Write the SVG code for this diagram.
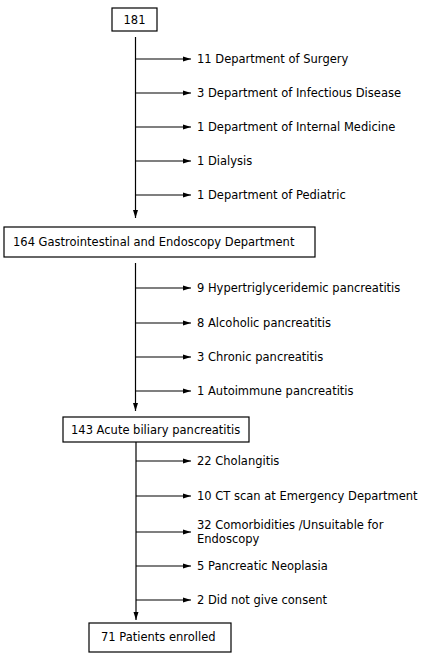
<svg xmlns="http://www.w3.org/2000/svg" width="427" height="659" viewBox="0 0 427 659">
<style>
text{font-family:"DejaVu Sans",Verdana,sans-serif;font-size:11.5px;fill:#000}
.box{fill:#fff;stroke:#000;stroke-width:1.2}
.ln{stroke:#000;stroke-width:1.2;fill:none}
</style>
<defs>
<marker id="ah" viewBox="0 0 8 6" refX="8" refY="3" markerWidth="8" markerHeight="6" markerUnits="userSpaceOnUse" orient="auto">
<path d="M0,0.5 L8,3 L0,5.5 Z" fill="#000"/>
</marker>
</defs>
<rect width="427" height="659" fill="#fff"/>
<g id="connectors">
<line class="ln" x1="135.5" y1="37" x2="135.5" y2="218" marker-end="url(#ah)"/>
<line class="ln" x1="135.5" y1="59" x2="191" y2="59" marker-end="url(#ah)"/>
<line class="ln" x1="135.5" y1="93" x2="191" y2="93" marker-end="url(#ah)"/>
<line class="ln" x1="135.5" y1="127" x2="191" y2="127" marker-end="url(#ah)"/>
<line class="ln" x1="135.5" y1="161" x2="191" y2="161" marker-end="url(#ah)"/>
<line class="ln" x1="135.5" y1="195" x2="191" y2="195" marker-end="url(#ah)"/>
<line class="ln" x1="135.5" y1="263" x2="135.5" y2="411" marker-end="url(#ah)"/>
<line class="ln" x1="135.5" y1="288" x2="191" y2="288" marker-end="url(#ah)"/>
<line class="ln" x1="135.5" y1="323" x2="191" y2="323" marker-end="url(#ah)"/>
<line class="ln" x1="135.5" y1="357" x2="191" y2="357" marker-end="url(#ah)"/>
<line class="ln" x1="135.5" y1="391" x2="191" y2="391" marker-end="url(#ah)"/>
<line class="ln" x1="136" y1="442" x2="136" y2="620" marker-end="url(#ah)"/>
<line class="ln" x1="136" y1="461" x2="191" y2="461" marker-end="url(#ah)"/>
<line class="ln" x1="136" y1="496" x2="191" y2="496" marker-end="url(#ah)"/>
<line class="ln" x1="136" y1="532" x2="191" y2="532" marker-end="url(#ah)"/>
<line class="ln" x1="136" y1="566" x2="191" y2="566" marker-end="url(#ah)"/>
<line class="ln" x1="136" y1="600" x2="191" y2="600" marker-end="url(#ah)"/>
</g>
<g id="n181"><rect class="box" x="112" y="8" width="45" height="23"/><text x="134.5" y="23.5" text-anchor="middle">181</text></g>
<g id="e1"><text x="197" y="63">11 Department of Surgery</text></g>
<g id="e2"><text x="197" y="97">3 Department of Infectious Disease</text></g>
<g id="e3"><text x="197" y="131">1 Department of Internal Medicine</text></g>
<g id="e4"><text x="197" y="165">1 Dialysis</text></g>
<g id="e5"><text x="197" y="199">1 Department of Pediatric</text></g>
<g id="n164"><rect class="box" x="4" y="227" width="311" height="30"/><text x="13" y="246">164 Gastrointestinal and Endoscopy Department</text></g>
<g id="e6"><text x="197" y="292">9 Hypertriglyceridemic pancreatitis</text></g>
<g id="e7"><text x="197" y="327">8 Alcoholic pancreatitis</text></g>
<g id="e8"><text x="197" y="361">3 Chronic pancreatitis</text></g>
<g id="e9"><text x="197" y="395">1 Autoimmune pancreatitis</text></g>
<g id="n143"><rect class="box" x="63" y="417" width="186" height="25"/><text x="71" y="433.5">143 Acute biliary pancreatitis</text></g>
<g id="e10"><text x="197" y="465">22 Cholangitis</text></g>
<g id="e11"><text x="197" y="500">10 CT scan at Emergency Department</text></g>
<g id="e12"><text x="197" y="529">32 Comorbidities /Unsuitable for</text><text x="197" y="543">Endoscopy</text></g>
<g id="e13"><text x="197" y="570">5 Pancreatic Neoplasia</text></g>
<g id="e14"><text x="197" y="604">2 Did not give consent</text></g>
<g id="n71"><rect class="box" x="89" y="623" width="142" height="29"/><text x="101" y="641">71 Patients enrolled</text></g>
</svg>
